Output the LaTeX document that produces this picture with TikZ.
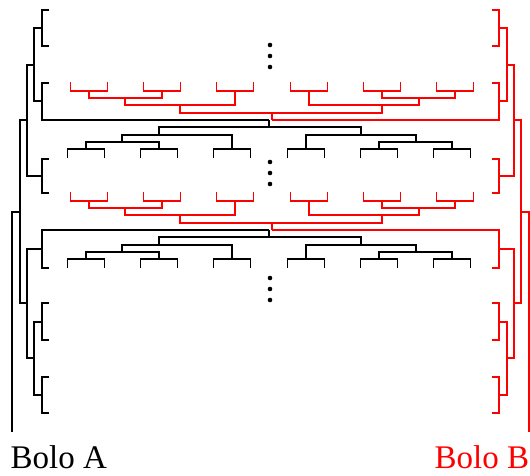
\documentclass[tikz,border=0pt]{standalone}
\usepackage{fontspec}
\setmainfont{Liberation Serif}
\usepackage{tikz}

\begin{document}
\begin{tikzpicture}[x=1pt,y=-1pt,line width=1.4pt,
  bolo label/.style={font=\fontsize{33}{38}\selectfont,inner sep=0pt,
    text depth=0pt,anchor=base west}]

  \useasboundingbox (0,0) rectangle (530,476);

  \foreach \s/\col/\dir/\off in {a/black/1/0, b/red/-1/541} {
  \begin{scope}[shift={(\off,0)},xscale=\dir,color=\col]

    % subtrees hanging off leaf 4 and leaf 7
    \foreach \t/\y in {1/120,2/230} {
    \begin{scope}[shift={(269,\y)},yscale=\dir]
      \coordinate (\s\t-r) at (0,0);
      \coordinate (\s\t-4) at (0,7);
      \coordinate (\s\t-3a) at (-110,15);
      \coordinate (\s\t-3b) at (92,15);
      \coordinate (\s\t-2a) at (-147,22);
      \coordinate (\s\t-2b) at (147,22);
      \foreach \p/\c in {1/-183,2/-110,3/-37,4/37,5/110,6/183} {
        \coordinate (\s\t-p\p) at (\c,29);
        \coordinate (\s\t-p\p a) at (\c-18.5,38);
        \coordinate (\s\t-p\p b) at (\c+18.5,38);
        \draw (\s\t-p\p a) |- (\s\t-p\p) -| (\s\t-p\p b);
      }
      \draw (\s\t-p1) |- (\s\t-2a) -| (\s\t-p2)
            (\s\t-2a) |- (\s\t-3a) -| (\s\t-p3)
            (\s\t-p5) |- (\s\t-2b) -| (\s\t-p6)
            (\s\t-p4) |- (\s\t-3b) -| (\s\t-2b)
            (\s\t-3a) |- (\s\t-4) -| (\s\t-3b)
            (\s\t-4) -- (\s\t-r);
    \end{scope}
    }

    % outer tree
    \foreach \i/\y in {1/10,2/46,3/83,5/159,6/193,8/268,9/303,10/340,11/377,12/413}
      \coordinate (\s-l\i) at (49,\y);
    \coordinate (\s-n12) at (42,28);
    \coordinate (\s-n34) at (42,101);
    \coordinate (\s-n14) at (34,65);
    \coordinate (\s-n56) at (42,176);
    \coordinate (\s-n16) at (27,120);
    \coordinate (\s-n78) at (42,249);
    \coordinate (\s-n910) at (42,322);
    \coordinate (\s-n1112) at (42,395);
    \coordinate (\s-n912) at (34,358);
    \coordinate (\s-n712) at (27,303);
    \coordinate (\s-n) at (20,212);
    \coordinate (\s-root) at (12,432);

    \draw (\s-l1) -| (\s-n12) |- (\s-l2)
          (\s-l3) -| (\s-n34) |- (\s1-r)
          (\s-n12) -| (\s-n14) |- (\s-n34)
          (\s-l5) -| (\s-n56) |- (\s-l6)
          (\s-n14) -| (\s-n16) |- (\s-n56)
          (\s2-r) -| (\s-n78) |- (\s-l8)
          (\s-l9) -| (\s-n910) |- (\s-l10)
          (\s-l11) -| (\s-n1112) |- (\s-l12)
          (\s-n910) -| (\s-n912) |- (\s-n1112)
          (\s-n78) -| (\s-n712) |- (\s-n912)
          (\s-n16) -| (\s-n) |- (\s-n712)
          (\s-root) |- (\s-n);
  \end{scope}
  }

  \foreach \y in {45,56,67,162,173,184,278,289,300}
    \fill (270,\y) circle (2.3);

  \node[bolo label] (boloA) at (10,468) {Bolo A};
  \node[bolo label,red] (boloB) at (434,468) {Bolo B};
\end{tikzpicture}
\end{document}
